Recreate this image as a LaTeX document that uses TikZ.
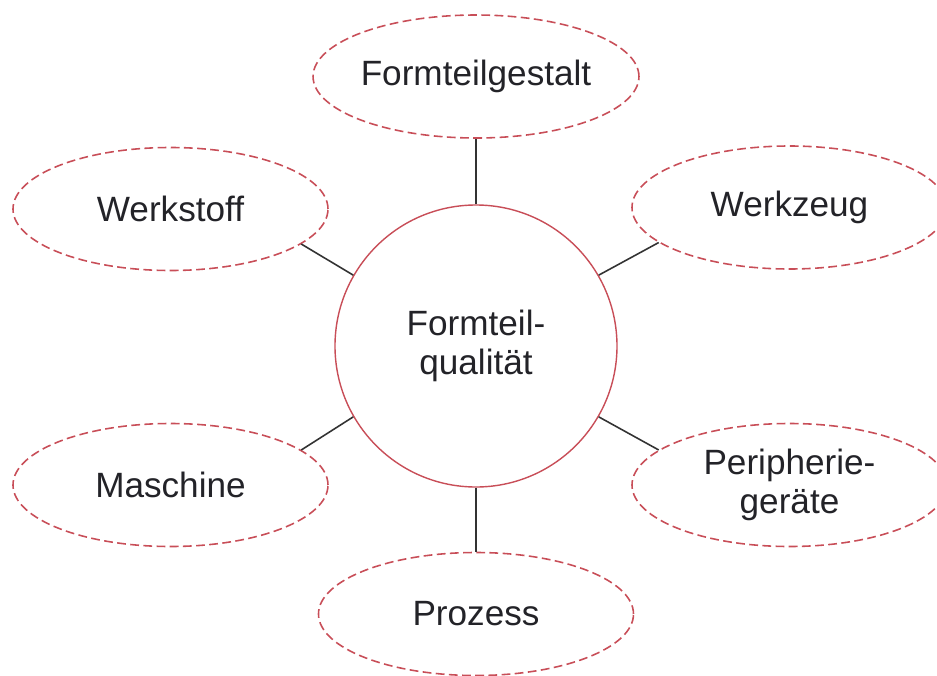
\documentclass[tikz,border=0pt]{standalone}
\usepackage{fontspec}
\setmainfont{Liberation Sans}
\usetikzlibrary{shapes}
\definecolor{rand}{RGB}{200,78,88}
\definecolor{schrift}{RGB}{35,35,40}

\begin{document}
\begin{tikzpicture}[every node/.style={align=center, text=schrift, font=\fontsize{20}{22}\selectfont},faktor/.style={draw=rand, ellipse, dash pattern=on 5pt off 2.5pt, line width=0.9pt, minimum width=6.3cm, minimum height=2.46cm, inner sep=0pt},kern/.style={draw=rand, circle, line width=0.8pt, minimum size=5.64cm, inner sep=0pt},link/.style={draw=black!80, line width=0.9pt}]
\useasboundingbox (-9.52,-6.58) rectangle (9.22,6.92);
\node[kern](fq) at (0,0) {Formteil-\\qualität};
\node[faktor](fg) at (0,5.39) {Formteilgestalt};
\node[faktor](ws) at (-6.11,2.74) {Werkstoff};
\node[faktor](wz) at (6.27,2.77) {Werkzeug};
\node[faktor](ma) at (-6.11,-2.78) {Maschine};
\node[faktor](pg) at (6.27,-2.78) {Peripherie-\\geräte};
\node[faktor](pr) at (0,-5.36) {Prozess};
\draw[link] (fq.90) -- (fg.south);
\draw[link] (fq.150) -- (ws.-15);
\draw[link] (fq.30) -- (wz.195);
\draw[link] (fq.210) -- (ma.15);
\draw[link] (fq.330) -- (pg.165);
\draw[link] (fq.270) -- (pr.north);
\end{tikzpicture}
\end{document}
